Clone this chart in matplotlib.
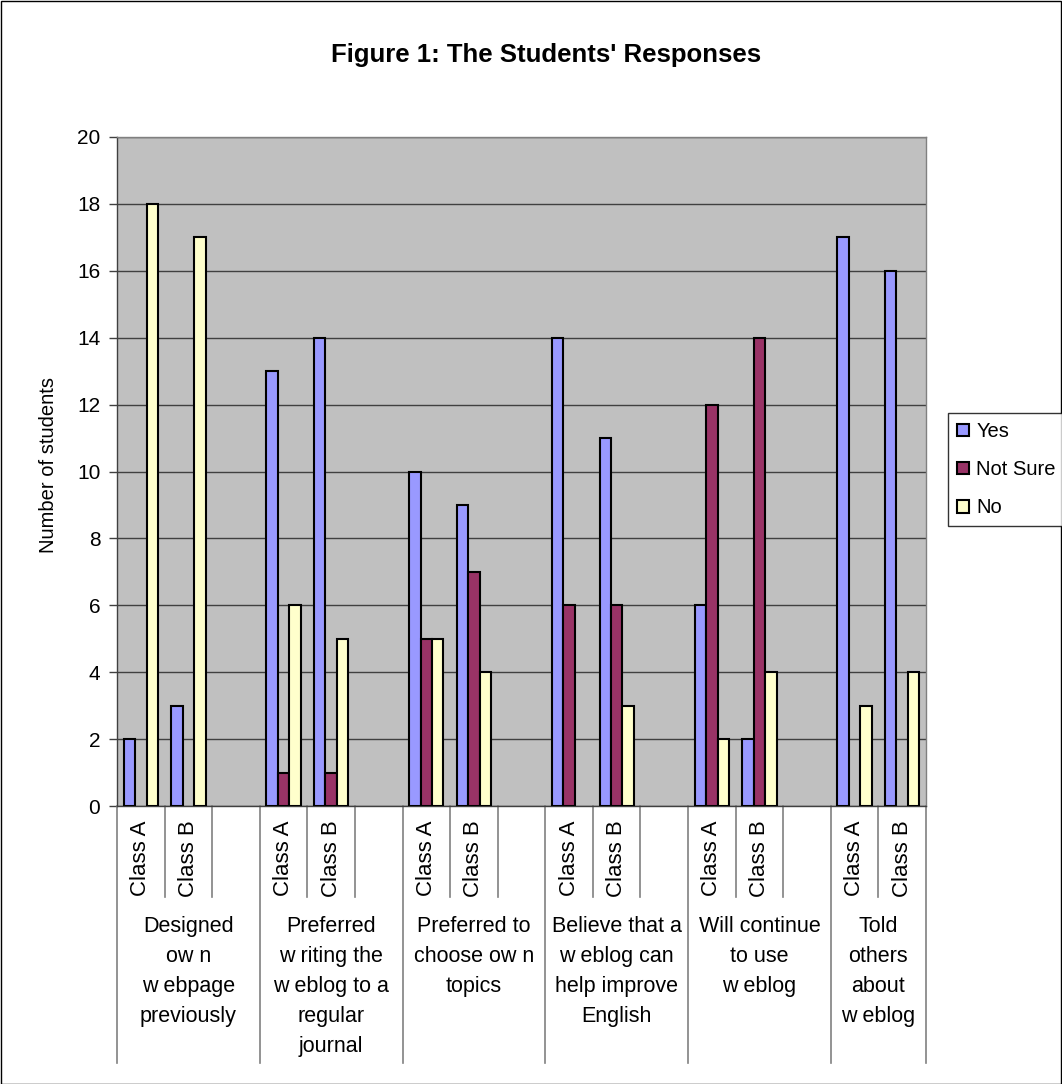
import matplotlib
matplotlib.use('Agg')
import matplotlib.pyplot as plt
from matplotlib.patches import Rectangle
from matplotlib.lines import Line2D

plt.rcParams['font.family'] = ['Liberation Sans', 'DejaVu Sans']

groups = [
    "Designed\now n\nw ebpage\npreviously",
    "Preferred\nw riting the\nw eblog to a\nregular\njournal",
    "Preferred to\nchoose ow n\ntopics",
    "Believe that a\nw eblog can\nhelp improve\nEnglish",
    "Will continue\nto use\nw eblog",
    "Told\nothers\nabout\nw eblog",
]
classes = ["Class A", "Class B"]
series = ["Yes", "Not Sure", "No"]
yes = [2, 3, 13, 14, 10, 9, 14, 11, 6, 2, 17, 16]
not_sure = [0, 0, 1, 1, 5, 7, 6, 6, 12, 14, 0, 0]
no = [18, 17, 6, 5, 5, 4, 0, 3, 2, 4, 3, 4]
colors = ["#9999FF", "#993366", "#FFFFCC"]

W, H = 1062, 1084
fig = plt.figure(figsize=(W / 100, H / 100), dpi=100)
fig.patch.set_facecolor('white')
fig.add_artist(Rectangle((0.5 / W, 0.5 / H), (W - 1.5) / W, (H - 1.5) / H,
                         transform=fig.transFigure, fill=False,
                         edgecolor='black', lw=1))

left, right, top, bottom = 117, 926, 137, 806
ax = fig.add_axes([left / W, 1 - bottom / H, (right - left) / W, (bottom - top) / H])
ax.set_facecolor('#C0C0C0')

# slot positions: each group has Class A, Class B and a blank slot (last group no blank)
xpos = []
for g in range(len(groups)):
    for c in range(len(classes)):
        xpos.append(3 * g + c)
nslots = 3 * len(groups) - 1

bw = 0.24
for k, (vals, col, name) in enumerate(zip([yes, not_sure, no], colors, series)):
    xs = [x + (k - 1) * bw for x, v in zip(xpos, vals) if v > 0]
    hs = [v for v in vals if v > 0]
    ax.bar(xs, hs, width=bw, color=col, edgecolor='black', linewidth=1.5,
           label=name, zorder=3)

ax.set_xlim(-0.5, nslots - 0.5)
ax.set_ylim(0, 20)
ax.set_yticks(range(0, 21, 2))
ax.yaxis.grid(True, color='#404040', linewidth=1)
ax.set_axisbelow(True)
ax.set_xticks([])
ax.tick_params(axis='y', length=6, width=1, color='#404040', labelsize=15, pad=6)
for s in ax.spines.values():
    s.set_color('#808080')
    s.set_linewidth(1)
ax.spines['left'].set_color('#404040')
ax.spines['bottom'].set_color('#404040')
ax.set_ylabel("Number of students", fontsize=14.5)
ph = bottom - top
ax.yaxis.set_label_coords(-(117 - 58) / (right - left), (bottom - 465) / ph)

# multi-level category axis
trans = ax.get_xaxis_transform()
short_end = -(897 - bottom) / ph
long_end = -(1063 - bottom) / ph
for b in range(nslots + 1):
    xb = b - 0.5
    is_long = (b % 3 == 0) or b == nslots
    yend = long_end if is_long else short_end
    ax.add_line(Line2D([xb, xb], [0, yend], transform=trans, color='#808080',
                       lw=1.2, clip_on=False))
for i, x in enumerate(xpos):
    ax.text(x, -(820 - bottom) / ph, classes[i % 2], transform=trans, rotation=90,
            ha='center', va='top', fontsize=16)
for g, lab in enumerate(groups):
    cx = (3 * g - 0.5 + min(3 * g + 2.5, nslots - 0.5)) / 2
    ax.text(cx, -(916 - bottom) / ph, lab, transform=trans, ha='center', va='top',
            fontsize=15.5, linespacing=1.57)

fig.text(546 / W, 1 - 55 / H, "Figure 1: The Students' Responses", ha='center',
         va='center', fontsize=18.5, fontweight='bold')

leg = fig.legend(loc='upper left', bbox_to_anchor=(948 / W, 1 - 413 / H),
                 fontsize=14.5, frameon=True, fancybox=False, handlelength=0.6,
                 handleheight=0.6, handletextpad=0.35, labelspacing=0.95,
                 borderpad=0.45, borderaxespad=0)
leg.get_frame().set_edgecolor('black')
leg.get_frame().set_linewidth(1)

fig.savefig('out.png', dpi=100)
